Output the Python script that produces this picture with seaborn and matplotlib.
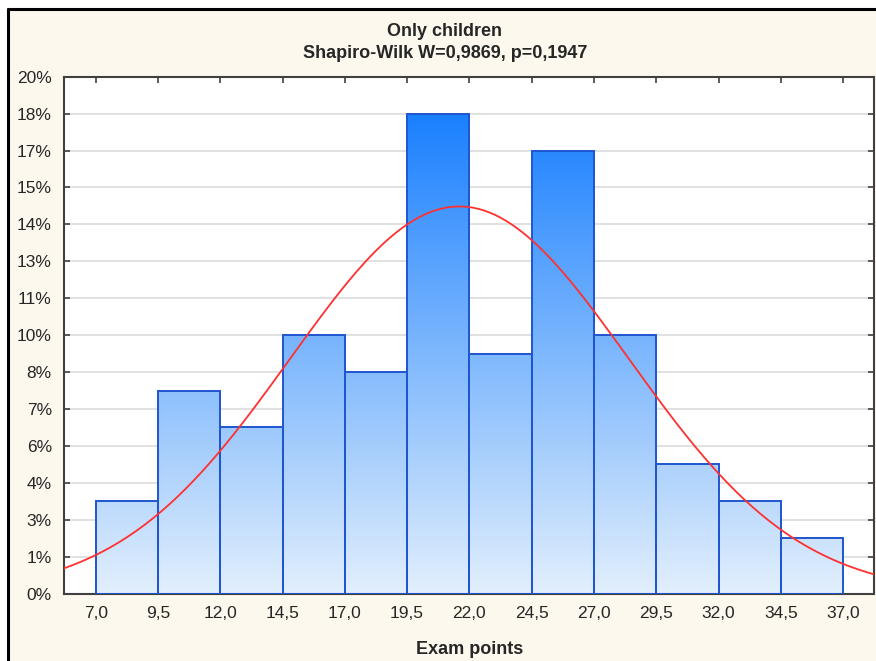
import numpy as np
import matplotlib
matplotlib.use("Agg")
import matplotlib.pyplot as plt
import seaborn as sns
from matplotlib.colors import LinearSegmentedColormap
from matplotlib.lines import Line2D

# histogram: bin edges and percent of observations per bin
edges = [7.0, 9.5, 12.0, 14.5, 17.0, 19.5, 22.0, 24.5, 27.0, 29.5, 32.0, 34.5, 37.0]
pct = [3.57, 7.86, 6.43, 10.0, 8.57, 18.57, 9.29, 17.14, 10.0, 5.0, 3.57, 2.14]

# fitted normal curve
mu = 21.6
sd = 6.8

ytick_pos = [i * 20 / 14 for i in range(15)]
ytick_lab = ["0%", "1%", "3%", "4%", "6%", "7%", "8%", "10%", "11%", "13%",
             "14%", "15%", "17%", "18%", "20%"]
xtick_pos = edges
xtick_lab = [f"{v:.1f}".replace(".", ",") for v in edges]

sns.set_style("white")
plt.rcParams["font.family"] = ["Liberation Sans", "DejaVu Sans"]

fig = plt.figure(figsize=(8.76, 6.61), dpi=100)
fig.patch.set_facecolor("white")
# cream panel with black frame (cut off at right/bottom like the screenshot)
fig.patches.append(plt.Rectangle((8 / 876, 0), 1, 1 - 9 / 661, transform=fig.transFigure,
                                 facecolor="#fdf8ed", edgecolor="none", zorder=-10))
fig.lines.append(Line2D([7.5 / 876, 1], [1 - 8.5 / 661] * 2, transform=fig.transFigure,
                        color="black", lw=2.2))
fig.lines.append(Line2D([7.5 / 876] * 2, [0, 1 - 8.5 / 661], transform=fig.transFigure,
                        color="black", lw=2.2))

ax = fig.add_axes([64.3 / 876, 1 - 593.7 / 661, (874 - 64.3) / 876, (593.7 - 76.7) / 661])
ax.set_facecolor("white")

mids = [(a + b) / 2 for a, b in zip(edges[:-1], edges[1:])]
sns.histplot(x=mids, weights=pct, bins=edges, stat="count", ax=ax,
             facecolor="none", edgecolor="#1f55d0", linewidth=1.4, zorder=3)

xmin, xmax = 5.74, 38.24
ymax = 20
cmap = LinearSegmentedColormap.from_list("blu", ["#e2effc", "#1a80ff"])
grad = np.linspace(0, 1, 256).reshape(-1, 1)
for p in ax.patches:
    im = ax.imshow(grad, cmap=cmap, origin="lower", aspect="auto",
                   extent=[xmin, xmax, 0, 18.6], zorder=2)
    im.set_clip_path(p)

xs = np.linspace(xmin, xmax, 300)
ys = sum(pct) * 2.5 * np.exp(-(xs - mu) ** 2 / (2 * sd ** 2)) / (sd * np.sqrt(2 * np.pi))
sns.lineplot(x=xs, y=ys, color="#ff3030", lw=1.3, ax=ax, zorder=4)

ax.set_xlim(xmin, xmax)
ax.set_ylim(0, ymax)
ax.set_xticks(xtick_pos)
ax.set_xticklabels(xtick_lab)
ax.set_yticks(ytick_pos)
ax.set_yticklabels(ytick_lab)
ax.tick_params(direction="in", length=4, width=1.2, color="#404040",
               labelsize=12.5, top=True, right=True, left=True, bottom=True, pad=9)
ax.yaxis.grid(True, color="#dcdcdc", lw=1.2, zorder=0)
ax.set_axisbelow(True)
for s in ax.spines.values():
    s.set_color("#404040")
    s.set_linewidth(1.5)
ax.set_ylabel("")
ax.set_xlabel("Exam points", fontsize=13, fontweight="bold", labelpad=14)

fig.text(445 / 876, 1 - 32 / 661, "Only children", ha="center", va="center",
         fontsize=13, fontweight="bold")
fig.text(445 / 876, 1 - 54 / 661, "Shapiro-Wilk W=0,9869, p=0,1947", ha="center",
         va="center", fontsize=13, fontweight="bold")

fig.savefig("out.png", dpi=100)
